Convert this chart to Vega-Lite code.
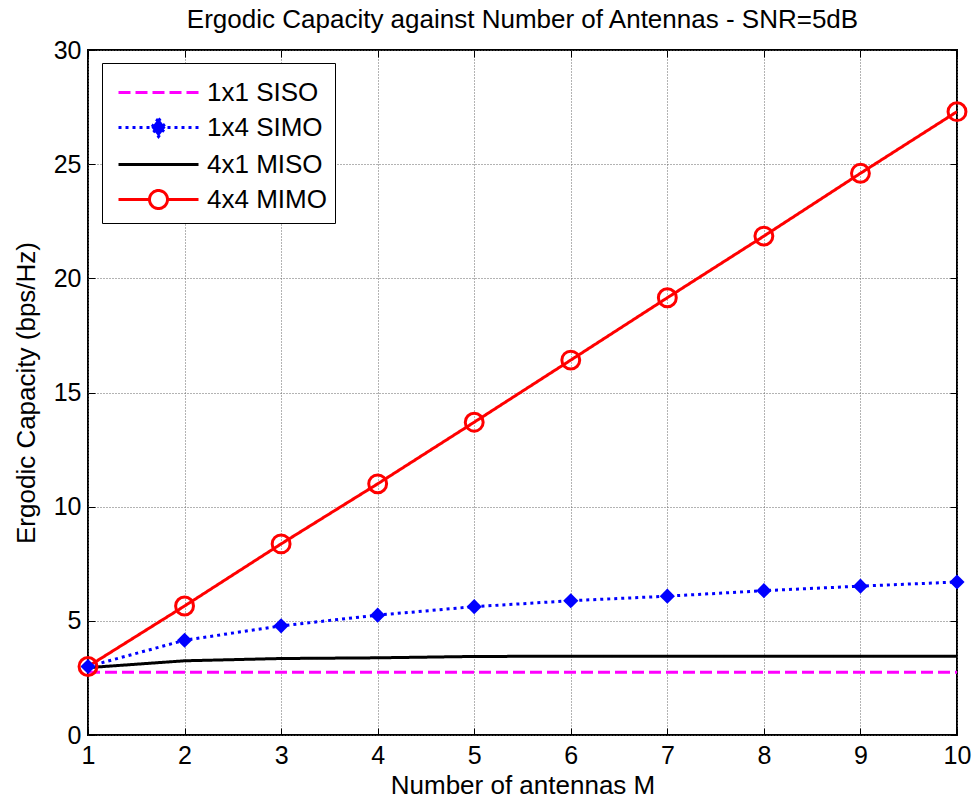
{
  "$schema": "https://vega.github.io/schema/vega-lite/v6.json",
  "width": 869,
  "height": 685,
  "autosize": {"type": "none"},
  "padding": {"left": 88, "top": 50, "right": 17, "bottom": 68},
  "background": "white",
  "title": {
    "text": "Ergodic Capacity against Number of Antennas - SNR=5dB",
    "font": "Liberation Sans",
    "fontSize": 26,
    "fontWeight": "normal",
    "color": "black",
    "anchor": "middle",
    "offset": 5
  },
  "config": {
    "view": {"stroke": "black", "strokeWidth": 2},
    "axis": {
      "labelFont": "Liberation Sans",
      "labelFontSize": 25,
      "labelColor": "black",
      "titleFont": "Liberation Sans",
      "titleFontSize": 26,
      "titleFontWeight": "normal",
      "titleColor": "black",
      "domain": false,
      "tickColor": "black",
      "tickSize": -7,
      "tickWidth": 1,
      "labelFlush": false,
      "gridColor": "#666",
      "gridDash": [1, 2],
      "gridWidth": 1
    }
  },
  "data": {
    "values": [
      {"M": 1, "capacity": 2.75, "series": "1x1 SISO"},
      {"M": 2, "capacity": 2.75, "series": "1x1 SISO"},
      {"M": 3, "capacity": 2.75, "series": "1x1 SISO"},
      {"M": 4, "capacity": 2.75, "series": "1x1 SISO"},
      {"M": 5, "capacity": 2.75, "series": "1x1 SISO"},
      {"M": 6, "capacity": 2.75, "series": "1x1 SISO"},
      {"M": 7, "capacity": 2.75, "series": "1x1 SISO"},
      {"M": 8, "capacity": 2.75, "series": "1x1 SISO"},
      {"M": 9, "capacity": 2.75, "series": "1x1 SISO"},
      {"M": 10, "capacity": 2.75, "series": "1x1 SISO"},
      {"M": 1, "capacity": 3.0, "series": "1x4 SIMO"},
      {"M": 2, "capacity": 4.15, "series": "1x4 SIMO"},
      {"M": 3, "capacity": 4.78, "series": "1x4 SIMO"},
      {"M": 4, "capacity": 5.25, "series": "1x4 SIMO"},
      {"M": 5, "capacity": 5.62, "series": "1x4 SIMO"},
      {"M": 6, "capacity": 5.88, "series": "1x4 SIMO"},
      {"M": 7, "capacity": 6.08, "series": "1x4 SIMO"},
      {"M": 8, "capacity": 6.32, "series": "1x4 SIMO"},
      {"M": 9, "capacity": 6.52, "series": "1x4 SIMO"},
      {"M": 10, "capacity": 6.7, "series": "1x4 SIMO"},
      {"M": 1, "capacity": 2.95, "series": "4x1 MISO"},
      {"M": 2, "capacity": 3.25, "series": "4x1 MISO"},
      {"M": 3, "capacity": 3.35, "series": "4x1 MISO"},
      {"M": 4, "capacity": 3.38, "series": "4x1 MISO"},
      {"M": 5, "capacity": 3.44, "series": "4x1 MISO"},
      {"M": 6, "capacity": 3.45, "series": "4x1 MISO"},
      {"M": 7, "capacity": 3.45, "series": "4x1 MISO"},
      {"M": 8, "capacity": 3.45, "series": "4x1 MISO"},
      {"M": 9, "capacity": 3.45, "series": "4x1 MISO"},
      {"M": 10, "capacity": 3.45, "series": "4x1 MISO"},
      {"M": 1, "capacity": 3.0, "series": "4x4 MIMO"},
      {"M": 2, "capacity": 5.65, "series": "4x4 MIMO"},
      {"M": 3, "capacity": 8.37, "series": "4x4 MIMO"},
      {"M": 4, "capacity": 11.0, "series": "4x4 MIMO"},
      {"M": 5, "capacity": 13.7, "series": "4x4 MIMO"},
      {"M": 6, "capacity": 16.42, "series": "4x4 MIMO"},
      {"M": 7, "capacity": 19.15, "series": "4x4 MIMO"},
      {"M": 8, "capacity": 21.85, "series": "4x4 MIMO"},
      {"M": 9, "capacity": 24.6, "series": "4x4 MIMO"},
      {"M": 10, "capacity": 27.3, "series": "4x4 MIMO"}
    ]
  },
  "resolve": {"axis": {"x": "independent", "y": "independent"}},
  "layer": [
    {
      "mark": {"type": "line", "strokeWidth": 3, "clip": true},
      "encoding": {
        "x": {
          "field": "M", "type": "quantitative",
          "scale": {"domain": [1, 10], "nice": false, "zero": false},
          "axis": {"values": [1,2,3,4,5,6,7,8,9,10], "title": "Number of antennas M", "grid": true, "labelPadding": 15, "titlePadding": 4, "format": "d"}
        },
        "y": {
          "field": "capacity", "type": "quantitative",
          "scale": {"domain": [0, 30], "nice": false},
          "axis": {"values": [0,5,10,15,20,25,30], "title": "Ergodic Capacity (bps/Hz)", "grid": true, "labelPadding": 14, "titlePadding": 14}
        },
        "color": {
          "field": "series", "type": "nominal",
          "scale": {"domain": ["1x1 SISO", "1x4 SIMO", "4x1 MISO", "4x4 MIMO"], "range": ["#ff00ff", "#0000ff", "#000000", "#ff0000"]},
          "legend": {
            "orient": "none", "legendX": 14, "legendY": 13, "title": null,
            "labelFont": "Liberation Sans", "labelFontSize": 26, "labelColor": "black",
            "strokeColor": "black", "fillColor": "white", "padding": 8,
            "symbolSize": 1600, "symbolStrokeWidth": 3, "rowPadding": -4,
            "symbolOffset": 27, "labelOffset": 27,
            "encode": {
              "symbols": {
                "update": {
                  "shape": {"signal": "datum.value === '4x4 MIMO' ? 'M-2,0L-0.45,0M2,0L0.45,0M0.45,0A0.45,0.45 0 1,1 -0.45,0A0.45,0.45 0 1,1 0.45,0' : datum.value === '1x4 SIMO' ? 'M-2,0L2,0M0,-0.45L0.35,0L0,0.45L-0.35,0Z' : 'M-2,0L2,0'"},
                  "fill": {"signal": "datum.value === '1x4 SIMO' ? '#0000ff' : 'transparent'"}
                }
              }
            }
          }
        },
        "strokeDash": {
          "field": "series", "type": "nominal",
          "scale": {"domain": ["1x1 SISO", "1x4 SIMO", "4x1 MISO", "4x4 MIMO"], "range": [[12, 5], [3, 4], [1, 0], [1, 0]]}
        }
      }
    },
    {
      "transform": [{"filter": "datum.series === '1x4 SIMO'"}],
      "mark": {"type": "point", "shape": "diamond", "filled": true, "size": 230, "color": "#0000ff", "opacity": 1},
      "encoding": {
        "x": {"field": "M", "type": "quantitative", "axis": null},
        "y": {"field": "capacity", "type": "quantitative", "axis": null}
      }
    },
    {
      "transform": [{"filter": "datum.series === '4x4 MIMO'"}],
      "mark": {"type": "point", "shape": "circle", "filled": false, "size": 320, "color": "#ff0000", "strokeWidth": 3, "opacity": 1},
      "encoding": {
        "x": {"field": "M", "type": "quantitative", "axis": {"orient": "top", "values": [1,2,3,4,5,6,7,8,9,10], "labels": false, "title": null, "grid": false}},
        "y": {"field": "capacity", "type": "quantitative", "axis": {"orient": "right", "values": [0,5,10,15,20,25,30], "labels": false, "title": null, "grid": false}}
      }
    }
  ]
}
